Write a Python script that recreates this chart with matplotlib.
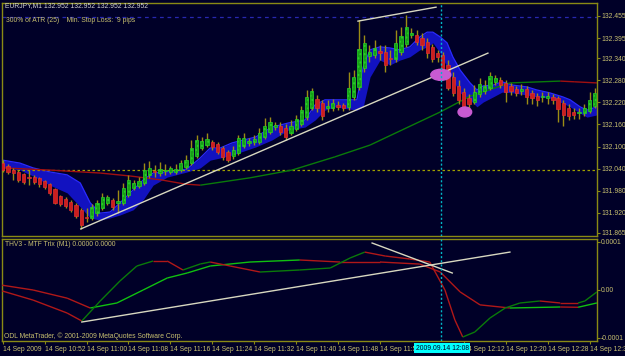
import numpy as np
import matplotlib
matplotlib.use("Agg")
import matplotlib.pyplot as plt
from matplotlib.collections import LineCollection
from matplotlib.patches import Ellipse

# ===================== data =====================
# one-minute candles, 14 Sep 2009 10:44 .. 12:37
opens = [132.055, 132.047, 132.036, 132.031, 132.025, 132.017, 132.017, 132.015, 132.006, 131.998,
         131.985, 131.966, 131.957, 131.949, 131.941, 131.928, 131.909, 131.906, 131.919, 131.933,
         131.947, 131.955, 131.947, 131.947, 131.968, 131.987, 131.993, 132.001, 132.023, 132.034,
         132.028, 132.034, 132.031, 132.031, 132.036, 132.044, 132.055, 132.074, 132.096, 132.104,
         132.112, 132.107, 132.096, 132.085, 132.074, 132.083, 132.102, 132.110, 132.112, 132.112,
         132.126, 132.140, 132.153, 132.156, 132.150, 132.137, 132.148, 132.161, 132.180, 132.205,
         132.229, 132.218, 132.205, 132.205, 132.213, 132.213, 132.208, 132.235, 132.262, 132.314,
         132.346, 132.349, 132.360, 132.357, 132.341, 132.338, 132.357, 132.379, 132.403, 132.403,
         132.395, 132.384, 132.371, 132.354, 132.349, 132.322, 132.289, 132.265, 132.248, 132.232,
         132.221, 132.243, 132.251, 132.259, 132.276, 132.281, 132.273, 132.265, 132.257, 132.251,
         132.257, 132.246, 132.237, 132.235, 132.232, 132.235, 132.232, 132.218, 132.205, 132.194,
         132.191, 132.191, 132.197, 132.210]
closes = [132.036, 132.031, 132.028, 132.009, 132.004, 132.015, 132.004, 131.998, 131.990, 131.974,
          131.947, 131.944, 131.938, 131.928, 131.911, 131.887, 131.906, 131.936, 131.947, 131.963,
          131.963, 131.936, 131.952, 131.987, 132.009, 132.001, 132.006, 132.036, 132.042, 132.031,
          132.039, 132.036, 132.042, 132.039, 132.055, 132.063, 132.096, 132.118, 132.115, 132.121,
          132.099, 132.085, 132.072, 132.063, 132.091, 132.123, 132.123, 132.115, 132.121, 132.137,
          132.156, 132.167, 132.159, 132.140, 132.126, 132.156, 132.175, 132.199, 132.235, 132.251,
          132.205, 132.183, 132.210, 132.218, 132.208, 132.205, 132.259, 132.289, 132.365, 132.382,
          132.357, 132.368, 132.354, 132.322, 132.338, 132.382, 132.401, 132.425, 132.409, 132.384,
          132.376, 132.354, 132.338, 132.344, 132.303, 132.259, 132.246, 132.227, 132.208, 132.216,
          132.248, 132.270, 132.265, 132.292, 132.286, 132.267, 132.248, 132.251, 132.246, 132.257,
          132.235, 132.232, 132.227, 132.236, 132.237, 132.227, 132.202, 132.186, 132.183, 132.186,
          132.194, 132.205, 132.227, 132.246]
highs = [132.063, 132.053, 132.042, 132.036, 132.028, 132.036, 132.023, 132.017, 132.009, 132.001,
         131.987, 131.968, 131.963, 131.955, 131.947, 131.933, 131.933, 131.944, 131.955, 131.974,
         131.968, 131.960, 131.982, 132.001, 132.023, 132.009, 132.017, 132.055, 132.061, 132.050,
         132.058, 132.053, 132.047, 132.053, 132.063, 132.077, 132.118, 132.131, 132.126, 132.137,
         132.118, 132.112, 132.102, 132.091, 132.102, 132.131, 132.137, 132.123, 132.131, 132.150,
         132.178, 132.180, 132.167, 132.167, 132.161, 132.172, 132.186, 132.210, 132.254, 132.259,
         132.240, 132.227, 132.227, 132.229, 132.224, 132.218, 132.303, 132.308, 132.444, 132.403,
         132.376, 132.390, 132.376, 132.376, 132.363, 132.417, 132.425, 132.458, 132.422, 132.417,
         132.409, 132.395, 132.379, 132.363, 132.357, 132.335, 132.303, 132.281, 132.259, 132.243,
         132.267, 132.286, 132.281, 132.303, 132.295, 132.289, 132.281, 132.273, 132.265, 132.270,
         132.265, 132.254, 132.246, 132.248, 132.248, 132.243, 132.237, 132.227, 132.216, 132.205,
         132.205, 132.216, 132.248, 132.259]
lows = [132.031, 132.025, 132.009, 132.004, 131.998, 131.995, 131.998, 131.990, 131.985, 131.968,
        131.944, 131.938, 131.933, 131.922, 131.906, 131.876, 131.895, 131.900, 131.911, 131.928,
        131.941, 131.928, 131.919, 131.941, 131.963, 131.982, 131.987, 131.995, 132.015, 132.017,
        132.020, 132.023, 132.025, 132.025, 132.031, 132.039, 132.050, 132.069, 132.091, 132.099,
        132.091, 132.080, 132.063, 132.058, 132.066, 132.077, 132.096, 132.102, 132.104, 132.107,
        132.121, 132.134, 132.145, 132.131, 132.118, 132.131, 132.142, 132.156, 132.172, 132.199,
        132.194, 132.172, 132.194, 132.197, 132.199, 132.197, 132.199, 132.227, 132.254, 132.303,
        132.330, 132.341, 132.335, 132.303, 132.322, 132.330, 132.349, 132.371, 132.395, 132.376,
        132.363, 132.341, 132.330, 132.330, 132.295, 132.254, 132.237, 132.216, 132.186, 132.205,
        132.216, 132.235, 132.243, 132.254, 132.267, 132.259, 132.221, 132.240, 132.237, 132.240,
        132.216, 132.216, 132.210, 132.221, 132.216, 132.216, 132.167, 132.156, 132.172, 132.175,
        132.175, 132.183, 132.191, 132.205]

# blue ribbon (upper / lower edge) at bar positions
band_idx = [0, 3.3, 5.8, 9.0, 12.3, 14.8, 16.7, 18.6, 20.5, 22.4, 24.9, 26.8, 28.7, 31.4, 35.2,
            37.7, 39.6, 41.5, 43.8, 48.3, 51.4, 54.5, 57.7, 59.6, 61.5, 63.4, 67.6, 68.8, 70.1,
            72.0, 73.9, 75.8, 77.7, 79.6, 81.0, 82.1, 83.5, 84.8, 85.9, 87.3, 89.2, 90.5, 91.7,
            93.6, 95.3, 97.4, 100.1, 101.9, 104.4, 106.9, 108.3, 110.2, 111.5, 113.4]
band_hi = [132.063, 132.055, 132.042, 132.031, 132.023, 132.001, 131.947, 131.919, 131.922, 131.947,
           131.982, 132.009, 132.028, 132.031, 132.039, 132.069, 132.096, 132.096, 132.110, 132.126,
           132.153, 132.164, 132.172, 132.213, 132.227, 132.227, 132.227, 132.316, 132.363, 132.371,
           132.368, 132.363, 132.371, 132.398, 132.411, 132.411, 132.398, 132.382, 132.344, 132.308,
           132.273, 132.254, 132.265, 132.267, 132.276, 132.267, 132.262, 132.254, 132.246, 132.235,
           132.227, 132.208, 132.199, 132.208]
band_lo = [132.044, 132.036, 132.020, 131.995, 131.974, 131.936, 131.906, 131.900, 131.906, 131.914,
           131.928, 131.955, 131.995, 132.017, 132.031, 132.042, 132.063, 132.069, 132.077, 132.099,
           132.118, 132.145, 132.153, 132.172, 132.199, 132.208, 132.199, 132.208, 132.289, 132.335,
           132.322, 132.335, 132.344, 132.363, 132.371, 132.382, 132.354, 132.316, 132.281, 132.246,
           132.227, 132.208, 132.221, 132.235, 132.248, 132.246, 132.240, 132.235, 132.232, 132.218,
           132.208, 132.191, 132.180, 132.186]

# slow moving average (red while falling, green while rising)
ma_idx = [0, 9.0, 18.6, 24.3, 30.4, 34.8, 37.7, 47.2, 55.2, 63.4, 70.1, 76.2, 83.5, 89.2, 96.8,
          106.4, 109.2, 113.4]
ma_val = [132.042, 132.036, 132.028, 132.020, 132.009, 131.998, 131.995, 132.015, 132.036, 132.072,
          132.104, 132.145, 132.194, 132.237, 132.273, 132.278, 132.276, 132.273]

level_price = 132.036   # yellow dotted level
ask_price = 132.452     # blue dashed line

# trend lines drawn on the chart (bar index, price)
trend1 = ([14.9, 92.6], [131.876, 132.354])
trend2 = ([67.8, 82.7], [132.441, 132.479])
marks = [(83.6, 132.295, 3.8, 0.030), (88.2, 132.194, 2.6, 0.027)]

# MTF Trix sub window, values in units of 0.0001
trix_slow_idx = [-0.1, 5.8, 12.3, 16.7, 21.8, 26.8, 31.4, 35.2, 39.6, 47.2, 56.7, 64.4, 72.0,
                 79.6, 83.5, 87.3, 91.1, 96.8, 106.4, 109.8, 113.4]
trix_slow = [0.10, 0.0, -0.17, -0.375, -0.27, 0.0, 0.25, 0.354, 0.5, 0.583, 0.625, 0.583, 0.583,
             0.54, 0.375, -0.04, -0.31, -0.375, -0.354, -0.36, -0.27]
trix_fast_idx = [-0.1, 5.8, 12.3, 15.1, 18.6, 22.4, 25.6, 28.7, 31.4, 34.4, 37.7, 39.6, 43.4,
                 49.1, 56.7, 62.5, 66.3, 69.1, 73.0, 77.7, 81.5, 84.4, 86.3, 87.8, 90.1, 93.0,
                 95.9, 98.7, 102.5, 106.4, 109.8, 111.1, 113.4]
trix_fast = [-0.02, -0.21, -0.48, -0.646, -0.23, 0.19, 0.5, 0.604, 0.604, 0.417, 0.542, 0.583,
             0.5, 0.375, 0.417, 0.458, 0.667, 0.79, 0.708, 0.646, 0.583, 0.0, -0.625, -0.98,
             -0.875, -0.583, -0.375, -0.271, -0.229, -0.271, -0.271, -0.229, -0.04]
trix_trend1 = ([15.1, 96.8], [-0.667, 0.79])
trix_trend2 = ([70.5, 85.8], [0.979, 0.354])

price_ticks = [132.455, 132.395, 132.340, 132.280, 132.220, 132.160, 132.100, 132.040,
               131.980, 131.920, 131.865]
time_idx = [0, 8, 16, 24, 32, 40, 48, 56, 64, 72, 88, 96, 104, 112]
time_labels = ['14 Sep 2009', '14 Sep 10:52', '14 Sep 11:00', '14 Sep 11:08', '14 Sep 11:16',
               '14 Sep 11:24', '14 Sep 11:32', '14 Sep 11:40', '14 Sep 11:48', '14 Sep 11:56',
               '14 Sep 12:12', '14 Sep 12:20', '14 Sep 12:28', '14 Sep 12:36']
cursor_idx = 83.6

# ===================== style =====================
BG = '#000028'
FRAME = '#8a8a14'
TXT = '#c8c070'
W, H = 625, 356
FS = 4.9

plt.rcParams['font.family'] = ['Liberation Sans', 'DejaVu Sans']
plt.rcParams['font.size'] = FS

fig = plt.figure(figsize=(W / 100, H / 100), dpi=100, facecolor=BG)


def px_axes(x0, y0, x1, y1):
    return fig.add_axes([x0 / W, 1 - y1 / H, (x1 - x0) / W, (y1 - y0) / H], facecolor=BG)


ax = px_axes(2, 3, 597, 236)
ax2 = px_axes(2, 239, 597, 341)

for a in (ax, ax2):
    for s in a.spines.values():
        s.set_color(FRAME)
        s.set_linewidth(1)
    a.yaxis.tick_right()
    a.tick_params(axis='y', colors=FRAME, labelcolor=TXT, length=2, width=0.8, pad=1, labelsize=FS)
    a.set_xlim(-0.134, 113.42)

# ===================== price window =====================
ax.set_ylim(131.8568, 132.4903)
ax.set_yticks(price_ticks)
ax.set_yticklabels(['%.3f' % p for p in price_ticks])
ax.tick_params(axis='x', bottom=False, labelbottom=False)

ax.fill_between(band_idx, band_lo, band_hi, color='#1212c0', lw=0, zorder=1)
ax.plot(band_idx, band_hi, color='#2a2aff', lw=0.9, zorder=1)

ax.axhline(level_price, color='#a0a000', lw=0.9, ls=(0, (2, 2)), zorder=1)
ax.axhline(ask_price, color='#2828b0', lw=0.9, ls=(0, (3, 3)), zorder=1)

ma_pts = np.column_stack([ma_idx, ma_val])
ma_segs = [ma_pts[k:k + 2] for k in range(len(ma_pts) - 1)]
ma_cols = ['#0a7a0a' if ma_val[k + 1] > ma_val[k] else '#a01010' for k in range(len(ma_val) - 1)]
ax.add_collection(LineCollection(ma_segs, colors=ma_cols, linewidths=1, zorder=2))

idx = np.arange(len(opens))
o = np.array(opens)
c = np.array(closes)
ax.vlines(idx, lows, highs, color='#9c8c14', lw=1, zorder=3)
up = c >= o
body = np.where(np.abs(c - o) < 0.0015, 0.0015, np.abs(c - o))
bottom = np.minimum(o, c)
ax.bar(idx[up], body[up], bottom=bottom[up], width=0.62, color='#16a016',
       edgecolor='#28d028', lw=0.5, hatch='....', zorder=4)
ax.bar(idx[~up], body[~up], bottom=bottom[~up], width=0.62, color='#cc1e1e',
       edgecolor='#e03030', lw=0.5, zorder=4)

for xs, ys in (trend1, trend2):
    ax.plot(xs, ys, color='#d8d8c0', lw=1, zorder=5)

for mx, my, mw, mh in marks:
    ax.add_patch(Ellipse((mx, my), mw, mh, color='#c85ad2', zorder=6))

ax.axvline(cursor_idx, color='#00b8c8', lw=1, ls=(0, (1.5, 1.5)), zorder=7)

# ===================== indicator window =====================
ax2.set_ylim(-1.0625e-4, 1.0625e-4)
ax2.set_yticks([1e-4, 0, -1e-4])
ax2.set_yticklabels(['0.0001', '0.00', '-0.0001'])


def trix_line(xs, vals, up_col, dn_col):
    pts = np.column_stack([xs, np.array(vals) * 1e-4])
    segs = [pts[k:k + 2] for k in range(len(pts) - 1)]
    cols = [up_col if vals[k + 1] > vals[k] else dn_col for k in range(len(vals) - 1)]
    ax2.add_collection(LineCollection(segs, colors=cols, linewidths=1, zorder=3))


trix_line(trix_slow_idx, trix_slow, '#10c010', '#b01818')
trix_line(trix_fast_idx, trix_fast, '#0a7a0a', '#b01818')
for xs, ys in (trix_trend1, trix_trend2):
    ax2.plot(xs, np.array(ys) * 1e-4, color='#d8d8c0', lw=1, zorder=4)
ax2.axvline(cursor_idx, color='#00b8c8', lw=1, ls=(0, (1.5, 1.5)), zorder=5)

ax2.set_xticks(time_idx)
ax2.set_xticklabels(time_labels)
ax2.tick_params(axis='x', colors=FRAME, labelcolor=TXT, length=2, pad=1.5, labelsize=FS)
for lab in ax2.get_xticklabels():
    lab.set_ha('left')

# ===================== texts =====================
fig.text(5 / W, 1 - 6 / H, 'EURJPY,M1 132.952 132.952 132.952 132.952', color='#d0d0d0',
         fontsize=FS, va='center', ha='left')
fig.text(6 / W, 1 - 20 / H, '300% of ATR (25)    Min. Stop Loss:  9 pips', color=TXT,
         fontsize=FS, va='center', ha='left')
fig.text(5 / W, 1 - 244 / H, 'THV3 - MTF Trix (M1) 0.0000 0.0000', color=TXT,
         fontsize=FS, va='center', ha='left')
fig.text(4 / W, 1 - 336 / H, 'ODL MetaTrader, \u00a9 2001-2009 MetaQuotes Software Corp.', color=TXT,
         fontsize=FS, va='center', ha='left')
fig.text(442 / W, 1 - 348 / H, '2009.09.14 12:08', color='#000028', fontsize=FS,
         va='center', ha='center',
         bbox=dict(boxstyle='square,pad=0.15', fc='#00ffff', ec='none'))

plt.savefig('out.png', dpi=100, facecolor=BG)
